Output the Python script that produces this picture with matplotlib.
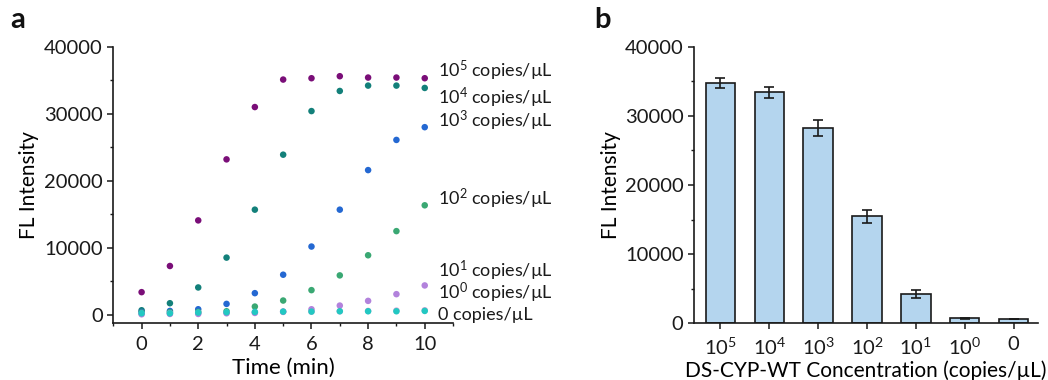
import matplotlib
matplotlib.use("Agg")
import matplotlib.pyplot as plt
from matplotlib.ticker import MultipleLocator

plt.rcParams['font.family'] = ['Lato', 'DejaVu Sans']
plt.rcParams['mathtext.fontset'] = 'custom'
plt.rcParams['mathtext.rm'] = 'Lato'
plt.rcParams['mathtext.it'] = 'Lato:italic'
plt.rcParams['mathtext.bf'] = 'Lato:bold'

# ---- kinetic curves (panel a) ----
time_min = [0, 1, 2, 3, 4, 5, 6, 7, 8, 9, 10]
fl_1e5 = [3400, 7300, 14100, 23200, 31000, 35100, 35300, 35600, 35400, 35400, 35300]
fl_1e4 = [700, 1750, 4100, 8550, 15700, 23900, 30400, 33400, 34200, 34200, 33850]
fl_1e3 = [450, 600, 850, 1650, 3250, 6000, 10200, 15700, 21600, 26100, 28000]
fl_1e2 = [350, 400, 450, 550, 1250, 2150, 3700, 5900, 8900, 12500, 16350]
fl_1e1 = [100, 150, 150, 250, 300, 500, 850, 1400, 2100, 3100, 4400]
fl_1e0 = [200, 250, 300, 350, 400, 450, 500, 550, 600, 650, 700]
fl_0 = [250, 250, 350, 400, 450, 500, 500, 550, 550, 550, 600]

series_labels = [r'$\mathregular{10^5}$ copies/µL', r'$\mathregular{10^4}$ copies/µL',
                 r'$\mathregular{10^3}$ copies/µL', r'$\mathregular{10^2}$ copies/µL',
                 r'$\mathregular{10^1}$ copies/µL', r'$\mathregular{10^0}$ copies/µL',
                 '0 copies/µL']

# ---- end-point intensities (panel b) ----
conc_labels = [r'$\mathregular{10^5}$', r'$\mathregular{10^4}$', r'$\mathregular{10^3}$',
               r'$\mathregular{10^2}$', r'$\mathregular{10^1}$', r'$\mathregular{10^0}$', '0']
fl_mean = [34800, 33400, 28200, 15470, 4250, 720, 580]
fl_sd = [700, 800, 1150, 900, 550, 80, 0]

colors = ['#7a0e78', '#13807a', '#2468d2', '#3aa873', '#b282dc', '#d9a6d6', '#22c8c2']
# vertical placement of the series labels at the right of panel a
label_y = [36350, 32400, 29000, 17350, 6500, 3250, 0]

fig = plt.figure(figsize=(10.48, 3.80), dpi=100)
ax1 = fig.add_axes([0.1081, 0.150, 0.3242, 0.7271])
ax2 = fig.add_axes([0.6622, 0.1492, 0.3283, 0.7279])

all_series = [fl_1e5, fl_1e4, fl_1e3, fl_1e2, fl_1e0, fl_1e1, fl_0]
all_colors = [colors[0], colors[1], colors[2], colors[3], colors[5], colors[4], colors[6]]
for vals, c in zip(all_series, all_colors):
    ax1.scatter(time_min, vals, s=22, color=c, edgecolors='none', zorder=3, clip_on=False)

for lab, y in zip(series_labels, label_y):
    ax1.text(10.47, y, lab, fontsize=13, va='center', ha='left', color='#1a1a1a',
             clip_on=False)

ax1.set_xlim(-1, 11)
ax1.set_ylim(-1200, 40000)
ax1.xaxis.set_major_locator(MultipleLocator(2))
ax1.xaxis.set_minor_locator(MultipleLocator(1))
ax1.yaxis.set_major_locator(MultipleLocator(10000))
ax1.yaxis.set_minor_locator(MultipleLocator(5000))
ax1.set_xlabel('Time (min)', fontsize=16, labelpad=3)
ax1.set_ylabel('FL Intensity', fontsize=15, labelpad=4)

# bar chart
xpos = list(range(len(fl_mean)))
ax2.bar(xpos, fl_mean, width=0.6, color='#b4d5ee', edgecolor='#1a1a1a', linewidth=1.2, zorder=2)
ax2.errorbar(xpos, fl_mean, yerr=fl_sd, fmt='none', ecolor='#1a1a1a', elinewidth=1.2,
             capsize=3.5, capthick=1.2, zorder=3)
ax2.set_xticks(xpos)
ax2.set_xticklabels(conc_labels)
ax2.set_xlim(-0.54, 6.5)
ax2.set_ylim(0, 40000)
ax2.yaxis.set_major_locator(MultipleLocator(10000))
ax2.yaxis.set_minor_locator(MultipleLocator(5000))
ax2.set_xlabel('DS-CYP-WT Concentration (copies/µL)', fontsize=15, labelpad=2)
ax2.set_ylabel('FL Intensity', fontsize=15, labelpad=3)

for ax in (ax1, ax2):
    for s in ('top', 'right'):
        ax.spines[s].set_visible(False)
    for s in ('left', 'bottom'):
        ax.spines[s].set_linewidth(1.2)
        ax.spines[s].set_color('#1a1a1a')
    ax.tick_params(which='major', direction='out', length=4.5, width=1.1, labelsize=14.5,
                   colors='#1a1a1a', pad=3)
    ax.tick_params(which='minor', direction='out', length=2.5, width=1.0, colors='#1a1a1a')
    ax.tick_params(axis='x', which='major', pad=5)
ax2.tick_params(axis='x', which='minor', length=0)

fig.text(0.010, 0.925, 'a', fontsize=21, fontweight='bold', color='#111111')
fig.text(0.567, 0.925, 'b', fontsize=21, fontweight='bold', color='#111111')

fig.savefig('out.png', dpi=100)
